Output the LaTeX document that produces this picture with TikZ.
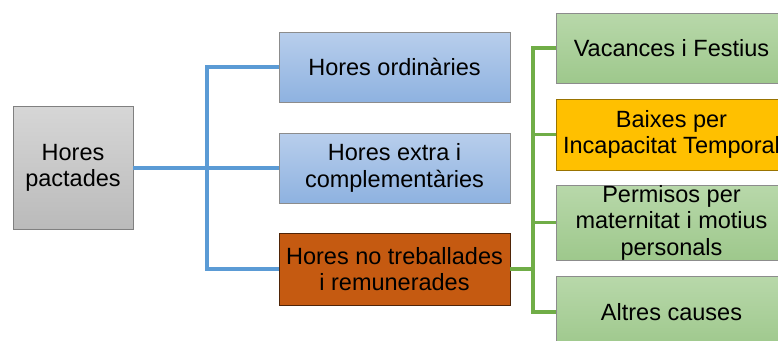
\documentclass[tikz,border=0pt]{standalone}
\usepackage{fontspec}
\setmainfont{Liberation Sans}
\definecolor{bluel}{HTML}{5B9BD5}
\definecolor{greenl}{HTML}{70AD47}
\definecolor{orangef}{HTML}{C55A11}
\definecolor{amberf}{HTML}{FFC000}
\tikzset{
  box/.style={rectangle, minimum width=231pt, align=center, inner sep=0pt,
    font=\fontsize{23.5}{26.5}\selectfont, line width=0.8pt},
  graybox/.style={box, draw=black!50, top color=black!16, bottom color=black!27},
  bluebox/.style={box, draw=black!45, top color={rgb,255:red,184;green,206;blue,236}, bottom color={rgb,255:red,142;green,178;blue,224}},
  greenbox/.style={box, draw=black!45, top color={rgb,255:red,184;green,216;blue,170}, bottom color={rgb,255:red,158;green,200;blue,140}},
  orangebox/.style={box, draw=black!60!orangef, fill=orangef},
  amberbox/.style={box, draw=black!40!amberf, fill=amberf},
  bline/.style={draw=bluel, line width=3.2pt},
  gline/.style={draw=greenl, line width=3.2pt},
}
\begin{document}
\begin{tikzpicture}[x=1pt,y=-1pt]
\useasboundingbox (0,0) rectangle (778,340);
\coordinate (bt) at (207,0);
\coordinate (gt) at (533,0);
\node[bluebox, minimum height=70pt] (ho) at (394.5,67) {Hores ordinàries};
\node[bluebox, minimum height=70pt] (he) at (394.5,168) {Hores extra i\\complementàries};
\node[orangebox, minimum height=72pt] (hn) at (394.5,269) {Hores no treballades\\i remunerades};
\node[greenbox, minimum height=70pt] (vf) at (671.5,48) {Vacances i Festius};
\node[amberbox, minimum height=71pt] (bi) at (671.5,134.5) {Baixes per\\Incapacitat Temporal};
\node[greenbox, minimum height=71pt] (pm) at (671.5,222.5) {Permisos per\\maternitat i motius\\personals};
\node[greenbox, minimum height=72pt] (ac) at (671.5,312) {Altres causes};
\node[graybox, minimum width=120pt, minimum height=123pt] (hp) at (73,168) {Hores\\pactades};
\draw[bline] (hp.east) -- (he.west);
\draw[bline] (ho.west) -- (bt |- ho.west) |- (hn.west);
\draw[gline] (hn.east) -- (gt |- hn.east);
\draw[gline] (vf.west) -- (gt |- vf.west) |- (ac.west);
\draw[gline] (bi.west) -- (gt |- bi.west);
\draw[gline] (pm.west) -- (gt |- pm.west);
\end{tikzpicture}
\end{document}
